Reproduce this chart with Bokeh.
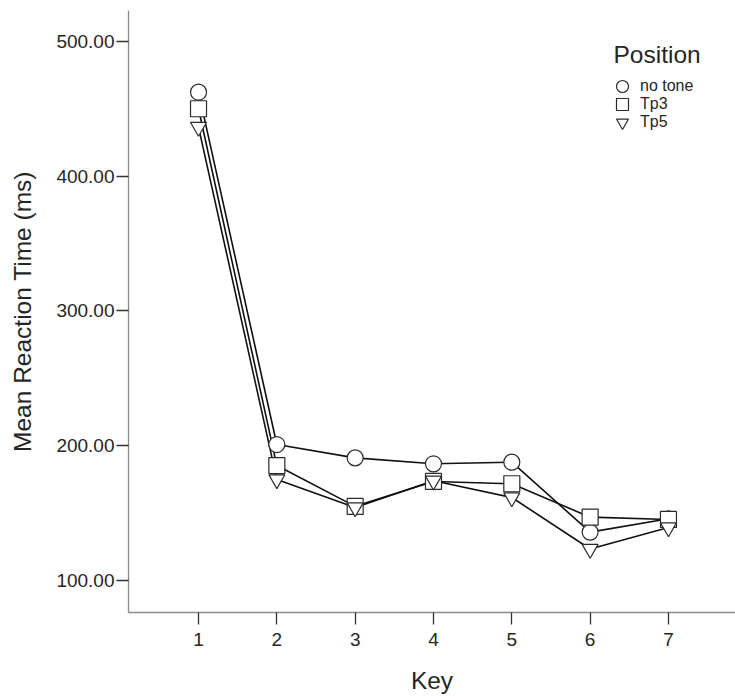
from bokeh.plotting import figure
from bokeh.models import (Range1d, FixedTicker, NumeralTickFormatter, Legend, LegendItem,
                          ColumnDataSource, Label)
from bokeh.embed import file_html
from bokeh.resources import INLINE

keys = [1, 2, 3, 4, 5, 6, 7]
no_tone = [462.4, 200.9, 191.0, 186.6, 187.8, 135.9, 145.8]
tp3 = [450.1, 185.3, 155.0, 173.5, 171.8, 147.0, 145.3]
tp5 = [436.5, 175.0, 154.2, 174.0, 161.6, 123.4, 139.3]
series_names = ["no tone", "Tp3", "Tp5"]
legend_title = "Position"
y_ticks = [100, 200, 300, 400, 500]

FONT = "Liberation Sans"
TXT = "#262626"

p = figure(width=735, height=698, output_backend="svg", toolbar_location=None,
           x_range=Range1d(0.106, 7.856), y_range=Range1d(76.25, 523.0),
           min_border_left=128, min_border_right=0, min_border_top=10, min_border_bottom=86)
p.outline_line_color = None
p.xgrid.visible = False
p.ygrid.visible = False
p.background_fill_color = "white"

src = ColumnDataSource(dict(x=keys, a=no_tone, b=tp3, c=tp5))

line_kw = dict(line_color="#111111", line_width=1.6)
for col in ["a", "b", "c"]:
    p.line("x", col, source=src, **line_kw)

mk = dict(fill_color="white", line_color="#2a2a2a", line_width=1.2, size=16)
r1 = p.scatter("x", "a", source=src, marker="circle", **mk)
r2 = p.scatter("x", "b", source=src, marker="square", **mk)
r3 = p.scatter("x", "c", source=src, marker="inverted_triangle", **mk)

for ax in (p.xaxis[0], p.yaxis[0]):
    ax.axis_line_color = "#8a8a8a"
    ax.axis_line_width = 1.3
    ax.major_tick_line_color = "#333333"
    ax.major_tick_line_width = 1.3
    ax.major_tick_in = 0
    ax.major_tick_out = 12
    ax.minor_tick_line_color = None
    ax.major_label_text_font = FONT
    ax.major_label_text_color = TXT
    ax.major_label_text_font_size = "19px"
    ax.axis_label_text_font = FONT
    ax.axis_label_text_color = TXT
    ax.axis_label_text_font_style = "normal"

p.xaxis.ticker = FixedTicker(ticks=keys)
p.xaxis.axis_label = "Key"
p.xaxis.axis_label_text_font_size = "24.5px"
p.xaxis.major_label_standoff = 8
p.xaxis.axis_label_standoff = 18

p.yaxis.ticker = FixedTicker(ticks=y_ticks)
p.yaxis.formatter = NumeralTickFormatter(format="0.00")
p.yaxis.axis_label = "Mean Reaction Time (ms)"
p.yaxis.axis_label_text_font_size = "24.5px"
p.yaxis.major_label_standoff = 2
p.yaxis.axis_label_standoff = 17

# legend: one compact Legend per entry so the rows sit close together with 12px markers
renderers = [r1, r2, r3]
row_bottoms = [511, 493, 475]
for name, rend, vy in zip(series_names, renderers, row_bottoms):
    lg = Legend(items=[LegendItem(label=name, renderers=[rend])],
                location=(479, vy),
                label_text_font=FONT, label_text_font_size="16px", label_text_color=TXT,
                glyph_width=30, glyph_height=30, label_height=16,
                label_standoff=3, padding=0, margin=0, spacing=0,
                border_line_color=None, background_fill_alpha=0)
    p.add_layout(lg)

p.add_layout(Label(x=485, y=558, x_units="screen", y_units="screen", text=legend_title,
                   text_font=FONT, text_font_size="24.5px", text_color=TXT,
                   text_baseline="alphabetic", text_align="left"))

open("out.html", "w").write(file_html(p, INLINE))
